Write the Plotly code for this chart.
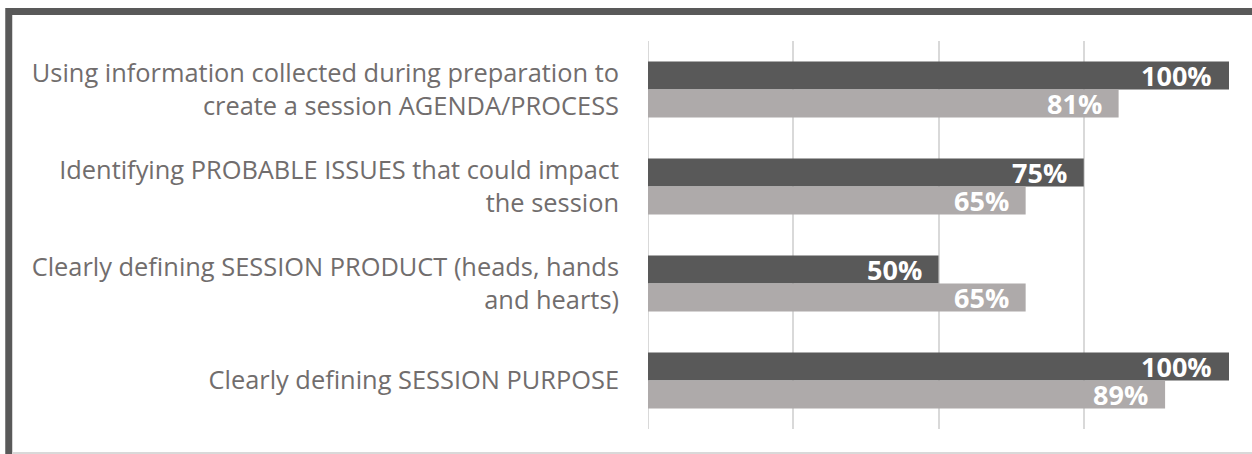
import plotly.graph_objects as go

categories = [
    "Using information collected during preparation to<br>create a session AGENDA/PROCESS",
    "Identifying PROBABLE ISSUES that could impact<br>the session",
    "Clearly defining SESSION PRODUCT (heads, hands<br>and hearts)",
    "Clearly defining SESSION PURPOSE",
]
series_dark = [100, 75, 50, 100]
series_light = [81, 65, 65, 89]

DARK = "#595959"
LIGHT = "#AEAAAA"
TEXT = "#716D6D"
W, H = 1252, 454
L, R, T, B = 648, 23, 41, 25
pw, ph = W - L - R, H - T - B


def px_x(p):
    return (p - L) / pw


def px_y(p):
    return (H - B - p) / ph


fig = go.Figure()
fig.add_trace(go.Bar(y=categories, x=[v / 100 for v in series_dark], orientation="h",
                     marker=dict(color=DARK, line=dict(width=0)), name="A", hoverinfo="skip"))
fig.add_trace(go.Bar(y=categories, x=[v / 100 for v in series_light], orientation="h",
                     marker=dict(color=LIGHT, line=dict(width=0)), name="B", hoverinfo="skip"))

annotations = []
for vals, ysh in ((series_dark, 14), (series_light, -14)):
    for c, v in zip(categories, vals):
        annotations.append(dict(x=v / 100, y=c, xref="x", yref="y", text=f"{v}%",
                                showarrow=False, xanchor="right", yanchor="middle",
                                xshift=-15, yshift=ysh + 0.5,
                                font=dict(family="Open Sans", size=27, color="white", weight="bold")))

shapes = [
    # outer frame (dark)
    dict(type="line", xref="paper", yref="paper", x0=px_x(8.75), x1=px_x(1262),
         y0=px_y(11.5), y1=px_y(11.5), line=dict(color=DARK, width=7)),
    dict(type="line", xref="paper", yref="paper", x0=px_x(8.75), x1=px_x(8.75),
         y0=px_y(8), y1=px_y(470), line=dict(color=DARK, width=7)),
    # bottom light edge
    dict(type="line", xref="paper", yref="paper", x0=px_x(12), x1=px_x(1262),
         y0=px_y(453), y1=px_y(453), line=dict(color="#D9D9D9", width=2)),
]

fig.update_layout(
    width=W, height=H,
    margin=dict(l=L, r=R, t=T, b=B, autoexpand=False),
    paper_bgcolor="white", plot_bgcolor="white",
    barmode="group", bargap=0.423, bargroupgap=0,
    showlegend=False,
    annotations=annotations, shapes=shapes,
    xaxis=dict(range=[0, 1], showticklabels=False, showgrid=True, gridcolor="#D9D9D9",
               gridwidth=2, dtick=0.25, tick0=0, zeroline=False, showline=False, fixedrange=True),
    yaxis=dict(range=[3.5, -0.5], showgrid=False, zeroline=False, showline=False, ticks="",
               ticklabelstandoff=28,
               tickfont=dict(family="Open Sans", size=25.4, color=TEXT), fixedrange=True),
)
fig.add_vline(x=0, line=dict(color="#D9D9D9", width=2), layer="below")

fig.write_html("out.html", config={"displayModeBar": False},
               post_script="document.body.style.margin='0';document.body.style.overflow='hidden';")
